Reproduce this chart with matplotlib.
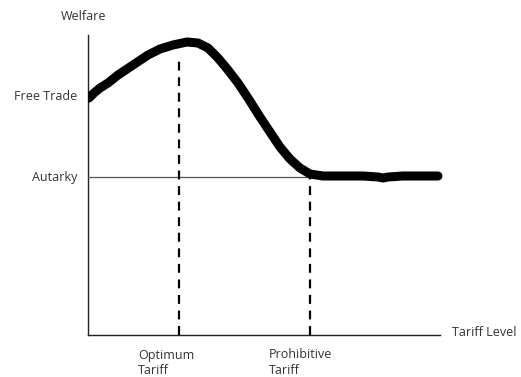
import matplotlib
matplotlib.use("Agg")
import matplotlib.pyplot as plt

# welfare curve (tariff level, welfare)
tariff = [1, 6, 12, 20, 30, 45, 60, 72, 85, 99, 110, 120, 130, 140, 150,
          160, 172, 182, 192, 202, 212, 222, 235, 255, 275, 290, 295, 300,
          315, 335, 350]
welfare = [237, 242, 247, 252, 260, 270, 280, 286, 290, 293, 292, 287, 277,
           265, 252, 237, 218, 203, 188, 176, 167, 161, 159, 159, 159, 158,
           157, 158, 159, 159, 159]

autarky = 158
free_trade = 238
optimum_t = 91
prohibitive_t = 222
axis_top = 300
axis_right = 352

fig = plt.figure(figsize=(5.21, 3.77), dpi=100)
ax = fig.add_axes([88 / 521, 42 / 377, 433 / 521, 335 / 377])
ax.set_xlim(0, 433)
ax.set_ylim(0, 335)
ax.axis("off")

ax.plot([0, 0], [0, axis_top], color="#222222", lw=1.0, clip_on=False)
ax.plot([0, axis_right], [0, 0], color="#222222", lw=1.0, clip_on=False)
ax.plot([0, prohibitive_t], [autarky, autarky], color="#555555", lw=0.9)

ax.plot([optimum_t, optimum_t], [0, 280], color="black", lw=1.6,
        ls=(0, (4, 3)), clip_on=False)
ax.plot([prohibitive_t, prohibitive_t], [0, autarky], color="black", lw=1.6,
        ls=(0, (4, 3)), clip_on=False)

ax.plot(tariff, welfare, color="black", lw=6.5, solid_capstyle="round",
        solid_joinstyle="round")

font = dict(family="Open Sans", fontsize=9, color="#333333")
ax.text(-4, 318, "Welfare", ha="center", va="center", **font)
ax.text(-11, free_trade, "Free Trade", ha="right", va="center", **font)
ax.text(-11, autarky, "Autarky", ha="right", va="center", **font)
ax.text(364, 2, "Tariff Level", ha="left", va="center", **font)
ax.text(50, -28, "Optimum\nTariff", ha="left", va="center", linespacing=1.3, **font)
ax.text(181, -28, "Prohibitive\nTariff", ha="left", va="center", linespacing=1.3, **font)

fig.savefig("out.png", dpi=100)
